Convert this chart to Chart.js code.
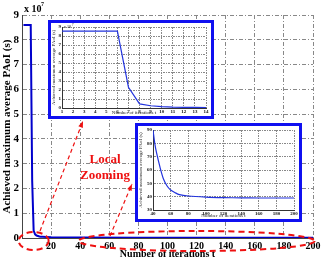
<!DOCTYPE html>
<html>
<head>
<meta charset="utf-8">
<script src="https://cdn.jsdelivr.net/npm/chart.js@4.4.0/dist/chart.umd.min.js"></script>
<style>
  body { margin: 0; background: #fff; }
  #wrap { position: relative; width: 326px; height: 261px; }
  #main { position: absolute; left: 0; top: 0; }
  .inset { position: absolute; border: 3px solid #1010f0; background: #fff; }
  #box1 { left: 48px; top: 20px; width: 160px; height: 93px; }
  #box2 { left: 135px; top: 123px; width: 161px; height: 93px; }
</style>
</head>
<body>
<div id="wrap">
  <canvas id="main" width="326" height="261"></canvas>
  <div class="inset" id="box1"><canvas id="zoom1" width="160" height="93"></canvas></div>
  <div class="inset" id="box2"><canvas id="zoom2" width="161" height="93"></canvas></div>
</div>
<script>
// values (main axis in units of 1e7)
const mainIters = [1, 2, 3, 4, 5, 6, 7, 8, 9, 10, 11, 12, 13, 14, 20, 40, 80, 120, 160, 200];
const mainVals = [8.6, 8.6, 8.6, 8.6, 8.6, 8.6, 2.3, 0.3, 0.15, 0.1, 0.08, 0.06, 0.05, 0.05, 0.03, 0.02, 0.01, 0.01, 0.01, 0.01];

// first local zoom, iterations 1..14
const zoom1Iters = [1, 2, 3, 4, 5, 6, 7, 8, 9, 10, 11, 12, 13, 14];
const zoom1Vals = [8.55, 8.55, 8.55, 8.55, 8.55, 8.55, 2.3, 0.45, 0.25, 0.15, 0.1, 0.08, 0.06, 0.05];

// second local zoom, iterations 40..200
const zoom2Iters = [40, 42, 44, 48, 52, 56, 60, 65, 70, 80, 100, 120, 140, 160, 180, 200];
const zoom2Vals = [90, 80, 73, 62, 53, 48, 45, 43, 41.5, 40.5, 39.7, 39.3, 39.1, 39, 39, 39];

const serif = 'Liberation Serif';
const gridDash = [4, 2, 1, 2];

function pts(xs, ys) {
  return xs.map((x, i) => ({ x: x, y: ys[i] }));
}

const annotations = {
  id: 'annotations',
  afterDraw(chart) {
    const ctx = chart.ctx;
    const xs = chart.scales.x, ys = chart.scales.y;
    const y0 = ys.getPixelForValue(0);
    ctx.save();
    // x 10^7
    ctx.fillStyle = '#000';
    ctx.font = 'bold 10px ' + serif;
    ctx.textBaseline = 'alphabetic';
    ctx.fillText('x 10', chart.chartArea.left + 2, chart.chartArea.top - 3);
    ctx.font = 'bold 6px ' + serif;
    ctx.fillText('7', chart.chartArea.left + 19, chart.chartArea.top - 9);

    ctx.strokeStyle = '#ee1111';
    ctx.fillStyle = '#ee1111';
    ctx.lineWidth = 2;
    ctx.setLineDash([6, 4]);
    // small ellipse round the drop
    ctx.beginPath();
    ctx.ellipse(xs.getPixelForValue(8), y0 + 3, 15, 9, 0, 0, Math.PI * 2);
    ctx.stroke();
    // long ellipse round the tail
    ctx.beginPath();
    ctx.ellipse(xs.getPixelForValue(120), y0 + 3, 118, 10, 0, 0, Math.PI * 2);
    ctx.stroke();

    // dashed arrows
    ctx.lineWidth = 1.2;
    ctx.setLineDash([4, 3]);
    function arrow(x1, y1, x2, y2) {
      ctx.beginPath();
      ctx.moveTo(x1, y1);
      ctx.lineTo(x2, y2);
      ctx.stroke();
      const a = Math.atan2(y2 - y1, x2 - x1);
      ctx.beginPath();
      ctx.moveTo(x2, y2);
      ctx.lineTo(x2 - 7 * Math.cos(a - 0.35), y2 - 7 * Math.sin(a - 0.35));
      ctx.lineTo(x2 - 7 * Math.cos(a + 0.35), y2 - 7 * Math.sin(a + 0.35));
      ctx.closePath();
      ctx.fill();
    }
    arrow(40, 231, 83, 121);
    arrow(110, 236, 132, 184);

    ctx.setLineDash([]);
    ctx.font = 'bold 13px ' + serif;
    ctx.textAlign = 'center';
    ctx.textBaseline = 'middle';
    ctx.fillText('Local', 105, 160);
    ctx.fillText('Zooming', 105, 176);
    ctx.restore();
  }
};

new Chart(document.getElementById('main'), {
  type: 'line',
  data: {
    datasets: [{
      data: pts(mainIters, mainVals),
      borderColor: '#0000cc',
      borderWidth: 2,
      pointRadius: 0,
      tension: 0
    }]
  },
  options: {
    responsive: false,
    animation: false,
    devicePixelRatio: 1,
    layout: { padding: { top: 15, right: 13, left: 0, bottom: 0 } },
    plugins: { legend: { display: false }, tooltip: { enabled: false } },
    scales: {
      x: {
        type: 'linear', min: 0, max: 200,
        afterFit: s => { s.height = 23; },
        ticks: {
          stepSize: 20, padding: 2, color: '#000',
          font: { family: serif, size: 10, weight: 'bold' },
          callback: v => v === 0 ? '' : v
        },
        grid: { color: '#888', drawTicks: false, lineWidth: 1 },
        border: { color: '#444', width: 1, dash: gridDash },
        title: {
          display: true, text: 'Number of iterations t', color: '#000',
          font: { family: serif, size: 10, weight: 'bold' },
          padding: { top: 0, bottom: 1 }
        }
      },
      y: {
        min: 0, max: 9,
        afterFit: s => { s.width = 22; },
        ticks: {
          stepSize: 1, padding: 3, color: '#000',
          font: { family: serif, size: 11, weight: 'bold' }
        },
        grid: { color: '#888', drawTicks: false, lineWidth: 1 },
        border: { color: '#444', width: 1, dash: gridDash },
        title: {
          display: true, text: 'Achieved maximum average PAoI (s)', color: '#000',
          font: { family: serif, size: 11, weight: 'bold' },
          padding: { top: 1, bottom: 0 }
        }
      }
    }
  },
  plugins: [annotations]
});

const insetUnit = {
  id: 'insetUnit',
  afterDraw(chart) {
    const ctx = chart.ctx;
    ctx.save();
    ctx.fillStyle = '#000';
    ctx.font = '4px ' + serif;
    ctx.fillText('x 10', chart.chartArea.left + 2, chart.chartArea.top + 1);
    ctx.font = '3px ' + serif;
    ctx.fillText('7', chart.chartArea.left + 10, chart.chartArea.top - 1);
    ctx.restore();
  }
};

function insetOptions(xmin, xmax, xstep, ymin, ymax, ystep, yw, xh, pad) {
  const tickFont = { family: serif, size: 5, weight: 'bold' };
  const titleFont = { family: serif, size: 5 };
  return {
    responsive: false,
    animation: false,
    devicePixelRatio: 1,
    layout: { padding: pad },
    plugins: { legend: { display: false }, tooltip: { enabled: false } },
    scales: {
      x: {
        type: 'linear', min: xmin, max: xmax,
        afterFit: s => { s.height = xh; },
        ticks: { stepSize: xstep, padding: 1, color: '#111', font: tickFont, maxRotation: 0, autoSkip: false },
        grid: { color: '#888', drawTicks: false },
        border: { color: '#333', dash: [2, 1, 1, 1] },
        title: { display: true, text: 'Number of iterations t', color: '#222', font: titleFont, padding: 0 }
      },
      y: {
        min: ymin, max: ymax,
        afterFit: s => { s.width = yw; },
        ticks: { stepSize: ystep, padding: 1, color: '#111', font: tickFont, autoSkip: false },
        grid: { color: '#888', drawTicks: false },
        border: { color: '#333', dash: [2, 1, 1, 1] },
        title: { display: true, text: 'Achieved maximum average PAoI (s)', color: '#222', font: titleFont, padding: 0 }
      }
    }
  };
}

new Chart(document.getElementById('zoom1'), {
  type: 'line',
  data: {
    datasets: [{
      data: pts(zoom1Iters, zoom1Vals),
      borderColor: '#2233dd', borderWidth: 1.2, pointRadius: 0, tension: 0
    }]
  },
  options: insetOptions(1, 14, 1, 0, 9, 1, 11, 8, { top: 4, right: 5, left: 0, bottom: 0 }),
  plugins: [insetUnit]
});

new Chart(document.getElementById('zoom2'), {
  type: 'line',
  data: {
    datasets: [{
      data: pts(zoom2Iters, zoom2Vals),
      borderColor: '#2233dd', borderWidth: 1.2, pointRadius: 0, tension: 0.3
    }]
  },
  options: insetOptions(40, 200, 20, 30, 90, 10, 15, 9, { top: 1, right: 5, left: 0, bottom: 0 })
});
</script>
</body>
</html>
